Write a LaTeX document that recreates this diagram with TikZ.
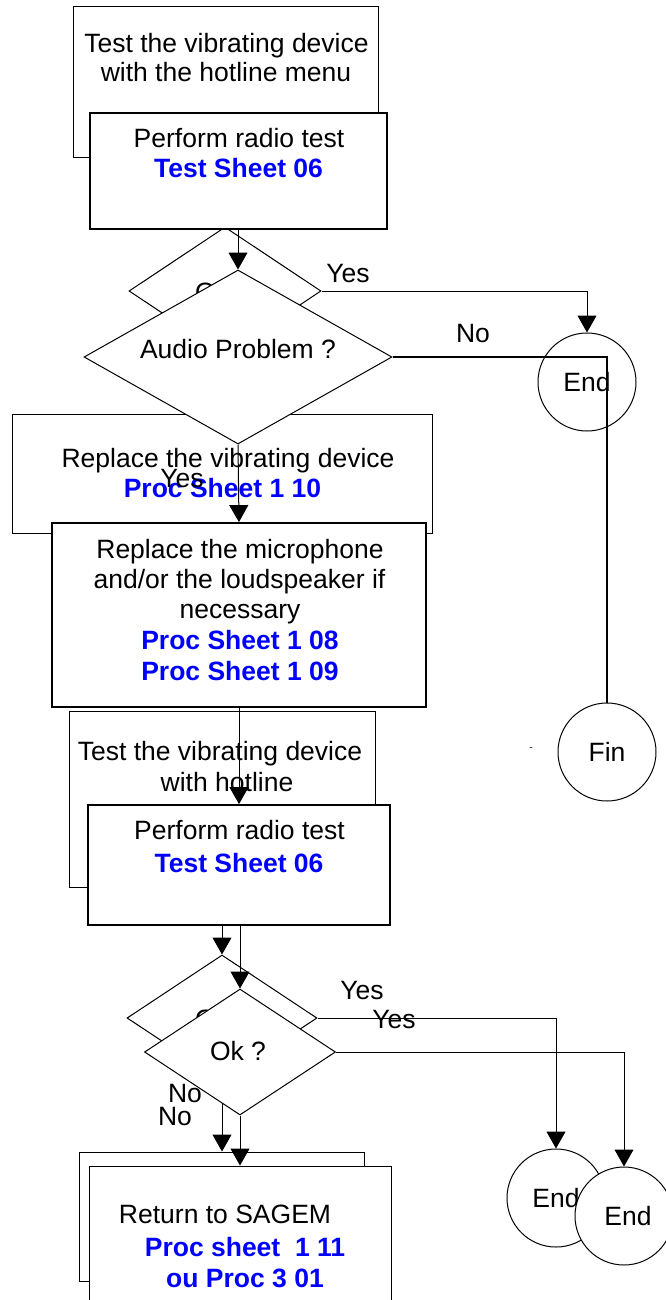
\documentclass[tikz,border=0pt]{standalone}
\usepackage{fontspec}
\setmainfont{Liberation Sans}
\usetikzlibrary{arrows.meta,shapes.geometric}
\begin{document}
\begin{tikzpicture}[x=1pt,y=-1pt,
  every node/.style={font=\fontsize{26.5}{30.5}\selectfont},
  box/.style={draw, fill=white, inner sep=0pt, line width=1pt},
  frontbox/.style={box, line width=1.8pt},
  dec/.style={draw, fill=white, diamond, inner sep=0pt, line width=1pt},
  term/.style={draw, fill=white, circle, inner sep=0pt, minimum size=98pt, line width=1pt},
  txt/.style={anchor=base, inner sep=0pt},
  ref/.style={txt, text=blue, font=\fontsize{26.5}{30.5}\selectfont\bfseries},
  flow/.style={line width=1pt, -{Triangle[length=17pt,width=19pt]}},
  heavy/.style={line width=2pt},
]
\useasboundingbox (0,0) rectangle (666,1300);

% --- top block
\node[box, minimum width=305pt, minimum height=151pt] (boxA) at (225.5,82.5) {};
\node[txt] (tA1) at (226.5,53) {Test the vibrating device};
\node[txt] (tA2) at (226,82) {with the hotline menu};

\node[dec, minimum width=192pt, minimum height=128pt] (d1) at (225,291) {};
\node[txt] (t1) at (223,301) {Ok ?};

\node[frontbox, minimum width=297pt, minimum height=116pt] (boxB) at (238.5,171) {};
\node[txt] (tB1) at (239,148) {Perform radio test};
\node[ref] (tB2) at (238.5,178) {Test Sheet 06};

\node[box, minimum width=420pt, minimum height=119pt] (boxC) at (222,473.5) {};
\node[txt] (tC1) at (228,467) {Replace the vibrating device};
\node[ref] (tC2) at (222.5,497) {Proc Sheet 1 10};

\node[dec, minimum width=308pt, minimum height=174pt] (d2) at (238,357) {};
\node[txt] (t2) at (238,358) {Audio Problem ?};

\node[txt] (lyes1) at (348,282) {Yes};
\node[txt] (lno1) at (473,342) {No};
\node[txt] (lyes2) at (182,487) {Yes};

\node[frontbox, minimum width=374pt, minimum height=184pt] (boxD) at (239,615) {};
\node[txt] (tD1) at (240,558) {Replace the microphone};
\node[txt] (tD2) at (239.5,588) {and/or the loudspeaker if};
\node[txt] (tD3) at (240,618) {necessary};
\node[ref] (tD4) at (240,649) {Proc Sheet 1 08};
\node[ref] (tD5) at (240,680) {Proc Sheet 1 09};

\node[term] (end1) at (587,382) {End};
\node[term] (fin) at (607,752) {Fin};
\node[txt, font=\fontsize{10}{10}\selectfont] (dash) at (531,750) {-};

\draw[flow] (d2.north |- boxB.south) -- (d2.north);
\draw[flow] (d1.east) -- (d1.east -| end1.north) -- (end1.north);
\draw[heavy] (d2.east) -- (d2.east -| fin.north) -- (fin.north);
\draw[flow] (d2.south) -- (boxD.north);

% --- middle block
\node[box, minimum width=306pt, minimum height=176pt] (boxE) at (222,799) {};
\node[txt] (tE1) at (220,760) {Test the vibrating device};
\node[txt] (tE2) at (227,791) {with hotline};

\node[frontbox, minimum width=302pt, minimum height=120pt] (boxF) at (239,865) {};
\node[txt] (tF1) at (239.5,839) {Perform radio test};
\node[ref] (tF2) at (239,872) {Test Sheet 06};

\draw[flow] (boxD.south) -- (boxD.south |- boxF.north);

% --- lower block
\node[dec, minimum width=190pt, minimum height=126pt] (d3) at (222,1018) {};
\node[txt] (t3) at (223,1028) {Ok ?};

\node[box, minimum width=285pt, minimum height=129pt] (boxG) at (221.5,1216.5) {};
\draw[flow] (d3.south) -- (d3.south |- boxG.north);

\node[dec, minimum width=191pt, minimum height=126pt] (d4) at (240,1052) {};
\node[txt] (t4) at (238,1060) {Ok ?};

\draw[flow] (d3.north |- boxF.south) -- (d3.north);
\draw[flow] (d4.north |- boxF.south) -- (d4.north);

\node[box, minimum width=302pt, minimum height=154pt] (boxH) at (240,1243) {};
\node[txt] (tH1) at (225,1223) {Return to SAGEM};
\node[ref] (tH2) at (245,1256) {Proc sheet \ 1 11};
\node[ref] (tH3) at (245,1287) {ou Proc 3 01};
\draw[flow] (d4.south) -- (d4.south |- boxH.north);

\node[term] (end3) at (556,1198) {End};
\node[term] (end4) at (624,1216) {\hspace*{8pt}End};

\draw[flow] (d3.east) -- (d3.east -| end3.north) -- (end3.north);
\draw[flow] (d4.east) -- (d4.east -| end4.north) -- (end4.north);

\node[txt] (lyes3) at (362,999) {Yes};
\node[txt] (lyes4) at (394,1028) {Yes};
\node[txt] (lno3) at (185,1102) {No};
\node[txt] (lno4) at (175,1125) {No};
\end{tikzpicture}
\end{document}
